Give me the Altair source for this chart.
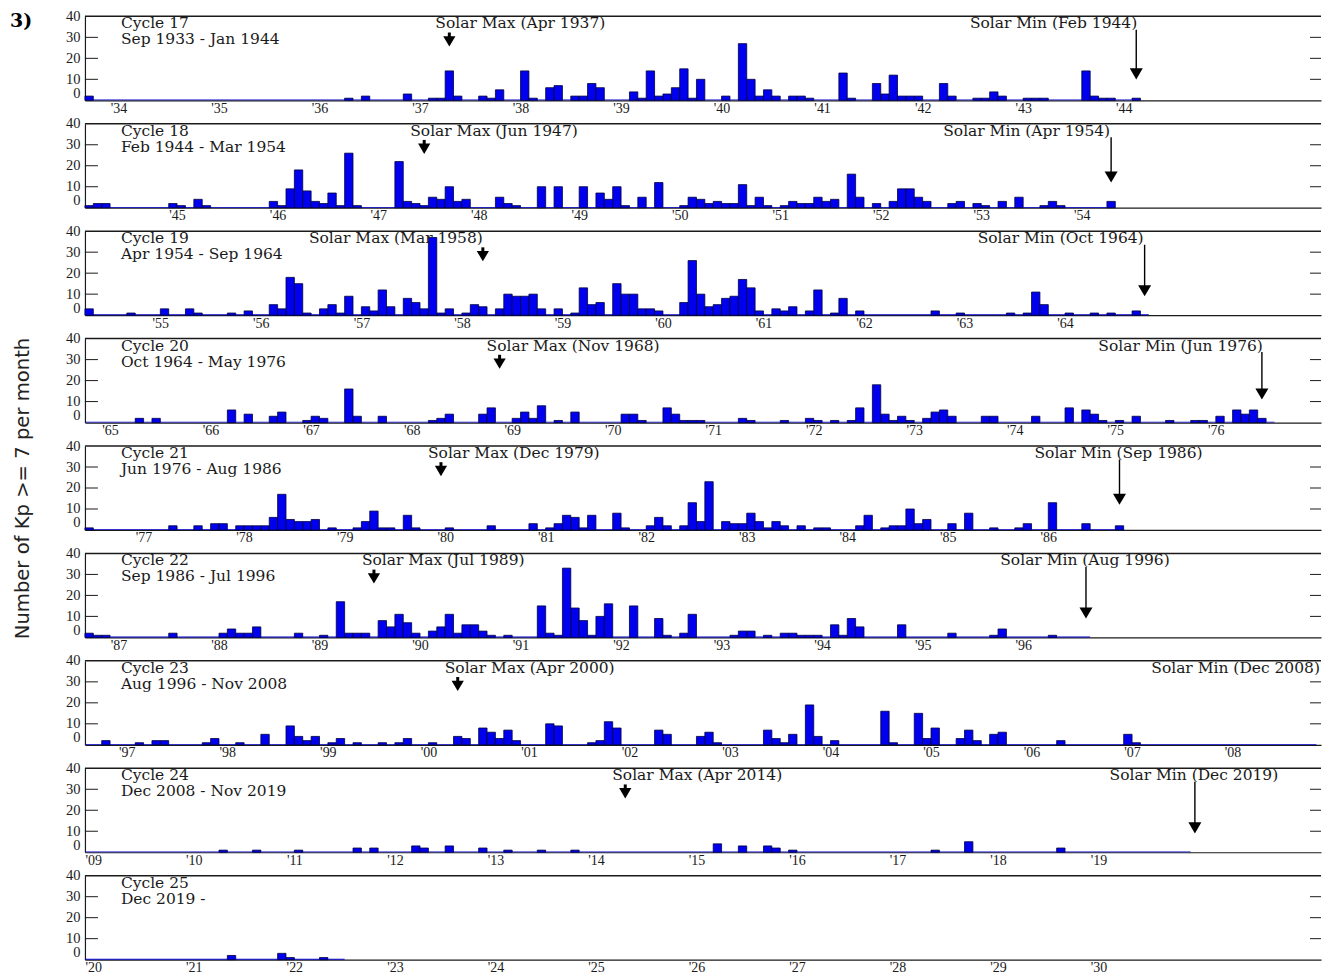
import altair as alt
import pandas as pd

# ---------------- data (month offset from cycle start, count of Kp>=7 days) -------------
c17 = [(0,2),(31,1),(33,2),(38,3),(41,1),(42,1),(43,14),(44,2),(47,2),(48,1),(49,5),(52,14),(53,1),
       (55,6),(56,7),(58,2),(59,2),(60,8),(61,6),(65,4),(66,1),(67,14),(68,2),(69,3),(70,6),(71,15),
       (72,1),(73,10),(76,2),(78,27),(79,10),(80,2),(81,5),(82,2),(84,2),(85,2),(86,1),(90,13),(91,1),
       (94,8),(95,3),(96,12),(97,2),(98,2),(99,2),(102,8),(103,2),(106,1),(107,1),(108,4),(109,2),
       (112,1),(113,1),(114,1),(119,14),(120,2),(121,1),(122,1),(125,1)]
c18 = [(0,1),(1,2),(2,2),(10,2),(11,1),(13,4),(14,1),(22,3),(23,1),(24,9),(25,18),(26,8),(27,3),(28,2),
       (29,7),(30,1),(31,26),(32,1),(37,22),(38,3),(39,2),(40,1),(41,5),(42,4),(43,10),(44,3),(45,4),
       (49,5),(50,2),(51,1),(54,10),(56,10),(59,10),(61,7),(62,4),(63,10),(64,1),(66,5),(68,12),(71,1),
       (72,5),(73,4),(74,2),(75,3),(76,2),(77,2),(78,11),(79,1),(80,5),(81,1),(83,1),(84,3),(85,2),
       (86,2),(87,5),(88,3),(89,4),(91,16),(92,5),(94,2),(96,3),(97,9),(98,9),(99,5),(100,3),(103,2),
       (104,3),(106,2),(107,1),(109,3),(111,5),(114,1),(115,3),(116,1),(122,3)]
c19 = [(0,3),(5,1),(9,3),(12,3),(13,1),(17,1),(19,2),(22,5),(23,3),(24,18),(25,15),(26,1),(28,3),(29,5),
       (30,1),(31,9),(33,4),(34,2),(35,12),(36,4),(38,8),(39,6),(40,3),(41,37),(42,1),(43,3),(45,1),
       (46,5),(47,4),(49,3),(50,10),(51,9),(52,9),(53,10),(54,3),(56,3),(58,1),(59,13),(60,5),(61,6),
       (63,15),(64,10),(65,10),(66,3),(67,3),(68,2),(71,6),(72,26),(73,10),(74,4),(75,5),(76,8),(77,9),
       (78,17),(79,13),(80,2),(82,3),(83,2),(84,4),(86,2),(87,12),(89,1),(90,8),(92,2),(101,2),(104,1),
       (110,1),(112,1),(113,11),(114,5),(117,1),(120,1),(122,1),(125,2)]
c20 = [(6,2),(8,2),(17,6),(19,4),(22,3),(23,5),(26,1),(27,3),(28,2),(31,16),(32,3),(35,3),(41,1),(42,2),
       (43,4),(47,4),(48,7),(51,2),(52,5),(53,2),(54,8),(56,1),(58,5),(64,4),(65,4),(66,1),(69,7),(70,4),
       (71,1),(72,1),(73,1),(78,2),(79,1),(83,1),(86,2),(87,1),(89,1),(91,1),(92,7),(94,18),(95,4),(96,1),
       (97,3),(98,1),(100,2),(101,5),(102,6),(103,3),(107,3),(108,3),(113,3),(117,7),(119,6),(120,4),
       (121,1),(123,1),(125,3),(129,1),(132,1),(133,1),(135,3),(137,6),(138,4),(139,6),(140,2)]
c21 = [(0,1),(10,2),(13,2),(15,3),(16,3),(18,2),(19,2),(20,2),(21,2),(22,6),(23,17),(24,5),(25,4),(26,4),
       (27,5),(29,1),(32,1),(33,4),(34,9),(35,1),(36,1),(38,7),(39,1),(43,1),(48,2),(53,3),(55,1),(56,3),
       (57,7),(58,6),(59,1),(60,7),(63,8),(64,1),(67,2),(68,6),(69,2),(71,2),(72,13),(73,4),(74,23),
       (76,4),(77,3),(78,3),(79,8),(80,4),(81,1),(82,4),(83,2),(85,2),(87,1),(88,1),(92,2),(93,7),(95,1),
       (96,2),(97,2),(98,10),(99,3),(100,5),(103,3),(105,8),(108,1),(111,1),(112,3),(115,13),(119,3),(123,2)]
c22 = [(0,2),(1,1),(2,1),(10,2),(16,2),(17,4),(18,2),(19,2),(20,5),(25,2),(28,1),(30,17),(31,2),(32,2),
       (33,2),(35,8),(36,5),(37,11),(38,7),(39,2),(41,3),(42,5),(43,11),(44,2),(45,6),(46,6),(47,3),
       (48,1),(50,1),(54,15),(55,2),(56,1),(57,33),(58,14),(59,8),(60,1),(61,10),(62,16),(65,15),(68,9),
       (69,1),(71,2),(72,11),(77,1),(78,3),(79,3),(81,1),(83,2),(84,2),(85,1),(86,1),(87,1),(89,6),(90,1),
       (91,9),(92,5),(97,6),(103,2),(108,1),(109,4),(115,1)]
c23 = [(2,2),(6,1),(8,2),(9,2),(14,1),(15,3),(18,1),(21,5),(24,9),(25,4),(26,2),(27,4),(29,1),(30,3),
       (32,1),(35,1),(37,1),(38,3),(41,1),(44,4),(45,3),(47,8),(48,6),(49,3),(50,7),(51,2),(55,10),(56,9),
       (60,1),(61,2),(62,11),(63,8),(68,7),(69,5),(73,4),(74,6),(75,1),(81,7),(82,3),(83,1),(84,5),(86,19),
       (87,4),(89,2),(95,16),(96,1),(99,15),(100,3),(101,8),(104,3),(105,7),(106,2),(108,5),(109,6),
       (116,2),(124,5),(125,1)]
c24 = [(16,1),(20,1),(25,1),(32,2),(34,2),(39,3),(40,2),(43,3),(47,2),(50,1),(54,1),(58,1),(75,4),(78,3),
       (81,3),(82,2),(84,1),(101,1),(105,5),(116,2)]
c25 = [(17,2),(23,3),(24,1),(28,1)]
cycle_counts = [c17, c18, c19, c20, c21, c22, c23, c24, c25]

cycle_titles = ["Cycle 17", "Cycle 18", "Cycle 19", "Cycle 20", "Cycle 21", "Cycle 22",
                "Cycle 23", "Cycle 24", "Cycle 25"]
cycle_spans = ["Sep 1933 - Jan 1944", "Feb 1944 - Mar 1954", "Apr 1954 - Sep 1964",
               "Oct 1964 - May 1976", "Jun 1976 - Aug 1986", "Sep 1986 - Jul 1996",
               "Aug 1996 - Nov 2008", "Dec 2008 - Nov 2019", "Dec 2019 -"]
start_year = [1933, 1944, 1954, 1964, 1976, 1986, 1996, 2008, 2019]
start_month = [9, 2, 4, 10, 6, 9, 8, 12, 12]
data_len = [126, 123, 127, 142, 124, 120, 147, 132, 31]
tick_first = [1934, 1945, 1955, 1965, 1977, 1987, 1997, 2009, 2020]
tick_last = [1944, 1954, 1964, 1976, 1986, 1996, 2008, 2019, 2030]

max_text = ["Solar Max (Apr 1937)", "Solar Max (Jun 1947)", "Solar Max (Mar 1958)",
            "Solar Max (Nov 1968)", "Solar Max (Dec 1979)", "Solar Max (Jul 1989)",
            "Solar Max (Apr 2000)", "Solar Max (Apr 2014)"]
max_year = [1937, 1947, 1958, 1968, 1979, 1989, 2000, 2014]
max_month = [4, 6, 3, 11, 12, 7, 4, 4]
min_text = ["Solar Min (Feb 1944)", "Solar Min (Apr 1954)", "Solar Min (Oct 1964)",
            "Solar Min (Jun 1976)", "Solar Min (Sep 1986)", "Solar Min (Aug 1996)",
            "Solar Min (Dec 2008)", "Solar Min (Dec 2019)"]
min_year = [1944, 1954, 1964, 1976, 1986, 1996, 2008, 2019]
min_month = [2, 4, 10, 6, 9, 8, 12, 12]

# ---------------- styling -------------
max_align = ["left", "left", "right", "left", "left", "left", "left", "left"]
max_dx = [-14, -14, 0, -13, -13, -12, -13, -13]
min_align = ["right", "right", "right", "right", "center", "center", "right", "center"]
min_dx = [1, -1, -1, 1, -1, -1, -9, -1]
min_tip = [10, 12, 9, 11, 12, 9, 10, 9]

PX_PER_YEAR = 100.6
PANEL_W = 1237
PANEL_H = 84
INK = "#1a1a1a"
BLUE = "#0000EE"
BAR_EDGE = "#000040"
BASE_BLUE = "#0000CC"
ANN_FONT = "DejaVu Serif"
TICK_FONT = "Liberation Serif"
YTITLE = "Number of Kp >= 7 per month"
HEAD = "M-1,-0.85L1,-0.85L0,0.85Z"


def panel(i):
    t0 = start_year[i] + (start_month[i] - 1) / 12
    t1 = t0 + PANEL_W / PX_PER_YEAR
    xs = alt.Scale(domain=[t0, t1], nice=False, zero=False)
    ys = alt.Scale(domain=[0, 40], nice=False)
    years = list(range(tick_first[i], tick_last[i] + 1))
    xaxis = alt.Axis(values=years, labelExpr="\"'\" + substring(toString(datum.value), 2, 4)",
                     ticks=False, domain=True, domainColor=INK, domainWidth=1.2, grid=False,
                     labelFont=TICK_FONT, labelFontSize=14, labelColor=INK, labelPadding=1,
                     title=None, labelFlush=False, labelOverlap=False)
    ykw = dict(values=[0, 10, 20, 30, 40], ticks=False, domain=True, domainColor=INK,
               domainWidth=1.2, grid=False, labelFont=TICK_FONT, labelFontSize=14.5,
               labelColor=INK, labelPadding=5, labelOverlap=False, labelFlush=False,
               labelBaseline={"condition": {"test": "datum.value === 0", "value": "bottom"},
                              "value": "middle"})
    if i == 4:
        ykw.update(title=YTITLE, titleFont="DejaVu Sans", titleFontSize=19.6,
                   titleFontWeight="normal", titleColor="#222222", titlePadding=33)
    else:
        ykw.update(title=None)
    yaxis = alt.Axis(**ykw)

    def X(f):
        return alt.X(f, scale=xs, axis=xaxis)

    def Y(f):
        return alt.Y(f, scale=ys, axis=yaxis)

    base_df = pd.DataFrame({"t": [t0], "t2": [t0 + data_len[i] / 12], "y": [0]})
    layers = [alt.Chart(base_df).mark_rule(color=BASE_BLUE, strokeWidth=1.6, clip=True).encode(
        x=X("t:Q"), x2="t2:Q", y=Y("y:Q"))]

    months = [m for m, _ in cycle_counts[i]]
    counts = [n for _, n in cycle_counts[i]]
    bar_df = pd.DataFrame({"t": [t0 + m / 12 for m in months],
                           "t2": [t0 + (m + 1) / 12 for m in months],
                           "n": counts, "z": [0] * len(months)})
    layers.append(alt.Chart(bar_df).mark_bar(fill=BLUE, stroke=BAR_EDGE, strokeWidth=0.8).encode(
        x=X("t:Q"), x2="t2:Q", y=Y("n:Q"), y2="z:Q"))

    top_df = pd.DataFrame({"y": [40]})
    layers.append(alt.Chart(top_df).mark_rule(color=INK, strokeWidth=1.5).encode(
        y=Y("y:Q"), x=alt.value(0), x2=alt.value(PANEL_W)))

    tick_df = pd.DataFrame({"y": [10, 20, 30]})
    layers.append(alt.Chart(tick_df).mark_rule(color=INK, strokeWidth=1).encode(
        y=Y("y:Q"), x=alt.value(0), x2=alt.value(13)))
    layers.append(alt.Chart(tick_df).mark_rule(color=INK, strokeWidth=1).encode(
        y=Y("y:Q"), x=alt.value(PANEL_W - 11), x2=alt.value(PANEL_W)))

    txt = dict(font=ANN_FONT, fontSize=15.5, color=INK, baseline="middle")
    layers.append(alt.Chart(pd.DataFrame({"s": [cycle_titles[i]]})).mark_text(align="left", **txt).encode(
        text="s:N", x=alt.value(36), y=alt.value(7)))
    layers.append(alt.Chart(pd.DataFrame({"s": [cycle_spans[i]]})).mark_text(align="left", **txt).encode(
        text="s:N", x=alt.value(36), y=alt.value(23)))

    if i == 0:
        layers.append(alt.Chart(pd.DataFrame({"s": ["3)"]})).mark_text(
            align="left", baseline="top", font=ANN_FONT, fontSize=19, fontWeight="bold", color="black"
        ).encode(text="s:N", x=alt.value(-75), y=alt.value(-4)))

    if i < 8:
        mx = max_year[i] + (max_month[i] - 1) / 12 + 1 / 24
        mdf = pd.DataFrame({"t": [mx], "s": [max_text[i]], "y": [32.3], "y2": [28.1]})
        layers.append(alt.Chart(mdf).mark_text(align=max_align[i], dx=max_dx[i], **txt).encode(
            text="s:N", x=X("t:Q"), y=alt.value(7)))
        layers.append(alt.Chart(mdf).mark_rule(color="black", strokeWidth=3).encode(
            x=X("t:Q"), y=Y("y:Q"), y2="y2:Q"))
        layers.append(alt.Chart(mdf).mark_point(shape=HEAD, filled=True, color="black", size=150, opacity=1).encode(
            x=X("t:Q"), y=Y("y2:Q")))

        nx = min_year[i] + (min_month[i] - 1) / 12 + 1 / 24
        ndf = pd.DataFrame({"t": [nx], "s": [min_text[i]], "y": [33.6], "y2": [min_tip[i] + 2.6]})
        layers.append(alt.Chart(ndf).mark_text(align=min_align[i], dx=min_dx[i], **txt).encode(
            text="s:N", x=X("t:Q"), y=alt.value(7)))
        layers.append(alt.Chart(ndf).mark_rule(color="black", strokeWidth=1.4, clip=True).encode(
            x=X("t:Q"), y=Y("y:Q"), y2="y2:Q"))
        layers.append(alt.Chart(ndf).mark_point(shape=HEAD, filled=True, color="black", size=170,
                                                opacity=1, clip=True).encode(
            x=X("t:Q"), y=Y("y2:Q")))

    return alt.layer(*layers).properties(width=PANEL_W, height=PANEL_H)


chart = alt.vconcat(*[panel(i) for i in range(9)], spacing=23.5, bounds="flush").properties(
    padding={"left": 2, "top": 0, "right": 0, "bottom": 0}, background="white"
).configure_view(strokeWidth=0)

chart.save("out.html", embed_options={"renderer": "svg", "actions": False})
